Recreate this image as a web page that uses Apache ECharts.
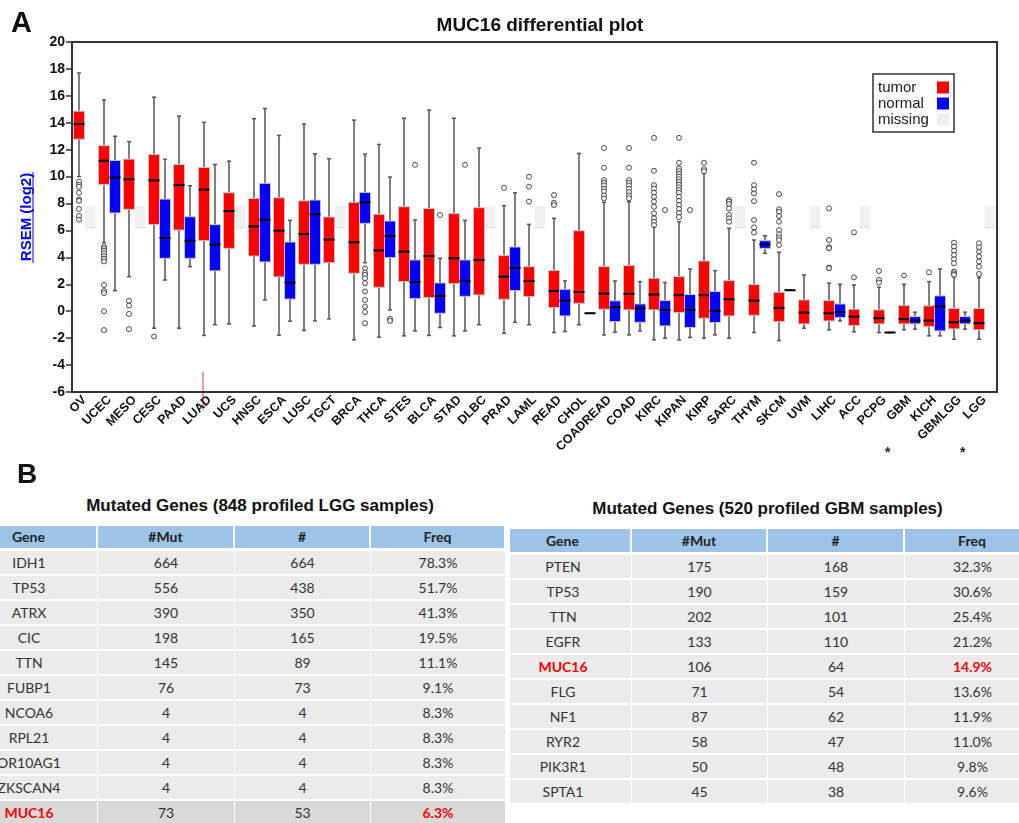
<!DOCTYPE html>
<html>
<head>
<meta charset="utf-8">
<script src="https://cdn.jsdelivr.net/npm/echarts@6/dist/echarts.min.js"></script>
<style>
body { margin: 0; width: 1019px; height: 823px; overflow: hidden; background: #fff; position: relative; }
#main { position: absolute; left: 0; top: 0; width: 1019px; height: 470px; }
.panel { position: absolute; font-family: "Liberation Sans", Arial, sans-serif; font-weight: bold; color: #111; }
.ttl { position: absolute; text-align: center; font-family: "Liberation Sans", Arial, sans-serif; font-weight: bold; font-size: 17px; color: #111; }
table { position: absolute; border-collapse: separate; border-spacing: 0; table-layout: fixed;
  font-family: Lato, "Open Sans", sans-serif; font-size: 14px; color: #333; }
th { background: #9dc3e6; padding: 0; font-weight: bold; color: #222; border-right: 2px solid #fff; border-bottom: 3px solid #fff; }
td { background: #ebebeb; padding: 0; height: 23px; line-height: 23px; text-align: center; border-bottom: 2px solid #fff; border-right: 1px solid #fff; }
tr.shade td { background: #d9d9d9; }
td.hi { color: #ff0000; font-weight: bold; }
</style>
</head>
<body>
<div id="main"></div>
<div class="panel" style="left:17px;top:458px;font-size:28px;">B</div>
<div class="ttl" style="left:0;width:520px;top:496px;">Mutated Genes (848 profiled LGG samples)</div>
<div class="ttl" style="left:510px;width:515px;top:499px;">Mutated Genes (520 profiled GBM samples)</div>
<table id="t1" style="left:-39px;top:526px;width:545px;"></table>
<table id="t2" style="left:510px;top:529px;width:531px;"></table>
<script>
var categories = ['OV', 'UCEC', 'MESO', 'CESC', 'PAAD', 'LUAD', 'UCS', 'HNSC', 'ESCA', 'LUSC', 'TGCT', 'BRCA',
    'THCA', 'STES', 'BLCA', 'STAD', 'DLBC', 'PRAD', 'LAML', 'READ', 'CHOL', 'COADREAD', 'COAD', 'KIRC', 'KIPAN',
    'KIRP', 'SARC', 'THYM', 'SKCM', 'UVM', 'LIHC', 'ACC', 'PCPG', 'GBM', 'KICH', 'GBMLGG', 'LGG'];
var starCats = ['GBM', 'LGG'];

// [min, Q1, median, Q3, max]
var tumorBox = [
    [10.0, 12.78, 13.9, 14.86, 17.7], [5.1, 9.42, 11.18, 12.3, 15.7], [2.57, 7.57, 9.8, 11.3, 12.6],
    [-1.26, 6.45, 9.72, 11.65, 15.9], [-1.26, 6.03, 9.37, 10.9, 14.5], [-1.8, 5.24, 9.03, 10.68, 14.02],
    [-0.94, 4.67, 7.44, 8.8, 11.15], [-1.1, 4.1, 6.3, 8.38, 14.3], [-1.78, 2.55, 5.98, 8.43, 13.06],
    [-1.43, 3.49, 5.74, 8.2, 13.9], [-0.57, 3.6, 5.32, 7.0, 11.33], [-2.13, 2.82, 5.12, 8.09, 14.2],
    [-1.93, 1.78, 4.52, 7.2, 12.39], [-1.83, 2.2, 4.43, 7.76, 14.34], [-1.8, 1.01, 4.1, 7.64, 14.94],
    [-1.83, 2.05, 3.93, 7.25, 14.34], [-1.0, 1.21, 3.81, 7.69, 12.12], [-1.63, 0.89, 2.57, 4.13, 7.84],
    [-1.0, 1.09, 2.25, 3.31, 6.45], [-1.58, 0.27, 1.51, 3.02, 6.9], [-1.0, 0.59, 1.43, 5.98, 11.72],
    [-1.76, 0.15, 1.31, 3.31, 8.09], [-1.76, 0.1, 1.29, 3.39, 8.14], [-2.13, 0.1, 1.24, 2.45, 6.28],
    [-2.13, -0.1, 1.19, 2.57, 6.65], [-2.0, -0.52, 1.19, 3.73, 10.24], [-2.0, -0.35, 0.89, 2.27, 6.16],
    [-1.58, -0.3, 0.79, 1.98, 5.29], [-2.18, -0.77, 0.25, 1.41, 4.38], [-1.26, -0.94, -0.1, 0.84, 2.7],
    [-1.38, -0.72, -0.15, 0.79, 2.08], [-1.53, -1.06, -0.4, 0.15, 1.95], [-1.58, -0.94, -0.52, 0.1, 1.78],
    [-1.38, -0.94, -0.59, 0.42, 2.0], [-1.83, -1.14, -0.69, 0.4, 2.2], [-2.08, -1.31, -0.82, 0.2, 2.57],
    [-2.08, -1.38, -0.89, 0.2, 2.5]
];
// null = no normal samples (drawn as "missing")
var normalBox = [
    null, [1.53, 7.3, 9.94, 11.2, 13.0], null,
    [2.32, 3.93, 5.44, 8.33, 11.28], [3.31, 3.93, 5.24, 7.02, 9.32], [-1.0, 3.0, 4.95, 6.43, 10.9],
    null, [0.84, 3.66, 6.8, 9.5, 15.06], [-0.74, 0.9, 2.13, 5.14, 6.75],
    [-0.72, 3.49, 7.2, 8.26, 11.7], null, [3.6, 6.53, 8.09, 8.83, 11.67],
    [0.1, 3.98, 5.59, 6.7, 9.97], [-1.46, 0.94, 2.18, 3.81, 6.78], [-1.21, -0.15, 1.14, 2.1, 3.93],
    [-1.46, 1.11, 2.25, 3.81, 6.75], null, [-0.82, 1.53, 3.21, 4.77, 8.8],
    null, [-1.51, -0.35, 0.79, 1.63, 2.25], [-0.15, -0.15, -0.15, -0.15, -0.15],
    [-1.56, -0.77, 0.3, 0.77, 2.25], [-1.46, -0.82, 0.22, 0.54, 2.2], [-2.0, -1.09, 0.1, 0.79, 2.13],
    [-1.95, -1.21, 0.1, 1.24, 3.14], [-1.76, -0.84, 0.02, 1.46, 3.02], null,
    [4.3, 4.67, 4.97, 5.24, 5.61], [1.56, 1.56, 1.56, 1.56, 1.56], null,
    [-0.72, -0.47, -0.07, 0.54, 2.0], null, [-1.58, -1.58, -1.58, -1.58, -1.58],
    [-1.33, -0.94, -0.69, -0.4, -0.07], [-1.83, -1.46, 0.35, 1.14, 3.14], [-1.33, -0.94, -0.69, -0.4, -0.07],
    null
];
var missingBand = [6.2, 7.8];

var tumorOutliers = [
    ['OV', [9.62, 9.4, 9.25, 8.8, 8.3, 8.2, 7.6, 7.07, 6.8]],
    ['UCEC', [4.8, 4.65, 4.5, 4.3, 4.1, 3.9, 3.7, 1.95, 1.5, 1.35, 0, -1.4]],
    ['MESO', [0.77, 0.42, -0.2, -1.33]],
    ['CESC', [-1.88]],
    ['PRAD', [9.17]],
    ['LAML', [9.99, 9.25, 8.14]],
    ['READ', [8.63, 8.06, 7.89]],
    ['COADREAD', [12.12, 10.66, 9.74, 9.55, 9.35, 9.1, 8.9, 8.6, 8.38]],
    ['COAD', [12.12, 10.66, 9.74, 9.55, 9.35, 9.1, 8.85, 8.6, 8.4]],
    ['KIRC', [12.88, 10.43, 9.37, 9.12, 8.8, 8.5, 8.14, 7.76, 7.27, 6.9, 6.65, 6.4]],
    ['KIPAN', [12.88, 11.03, 10.6, 10.4, 10.2, 10.0, 9.8, 9.6, 9.4, 9.2, 9.0, 8.8, 8.5, 8.2, 7.9, 7.6, 7.3, 7.0]],
    ['KIRP', [11.03, 10.55, 10.4]],
    ['SARC', [8.26, 8.14, 7.96, 7.64, 7.15, 6.9, 6.65]],
    ['THYM', [11.03, 9.37, 9.05, 8.75, 8.18, 6.78, 6.23, 5.84]],
    ['SKCM', [8.7, 7.57, 7.39, 7.07, 6.65, 6.03, 5.71, 5.49, 5.29, 4.92]],
    ['LIHC', [7.64, 5.29, 4.75, 4.68, 3.24, 3.19]],
    ['ACC', [5.86, 2.52]],
    ['PCPG', [2.99, 2.32, 2.13]],
    ['GBM', [2.65]],
    ['KICH', [2.89]],
    ['GBMLGG', [5.09, 4.8, 4.5, 4.18, 3.86, 3.56, 2.95, 2.82, 2.7]],
    ['LGG', [5.04, 4.75, 4.43, 4.06, 3.69, 3.31, 2.77]]
];
var normalOutliers = [
    ['BRCA', [3.19, 2.87, 2.7, 2.45, 2.08, 1.46, 0.84, 0.35, -0.07, -0.89]],
    ['THCA', [-0.57, -0.72]],
    ['STES', [10.88]],
    ['BLCA', [7.15]],
    ['STAD', [10.88]],
    ['KIRC', [7.52]],
    ['KIPAN', [7.52]]
];

var lggGenes = ['IDH1', 'TP53', 'ATRX', 'CIC', 'TTN', 'FUBP1', 'NCOA6', 'RPL21', 'OR10AG1', 'ZKSCAN4', 'MUC16'];
var lggMut = [664, 556, 390, 198, 145, 76, 4, 4, 4, 4, 73];
var lggNum = [664, 438, 350, 165, 89, 73, 4, 4, 4, 4, 53];
var lggFreq = ['78.3%', '51.7%', '41.3%', '19.5%', '11.1%', '9.1%', '8.3%', '8.3%', '8.3%', '8.3%', '6.3%'];

var gbmGenes = ['PTEN', 'TP53', 'TTN', 'EGFR', 'MUC16', 'FLG', 'NF1', 'RYR2', 'PIK3R1', 'SPTA1'];
var gbmMut = [175, 190, 202, 133, 106, 71, 87, 58, 50, 45];
var gbmNum = [168, 159, 101, 110, 64, 54, 62, 47, 48, 38];
var gbmFreq = ['32.3%', '30.6%', '25.4%', '21.2%', '14.9%', '13.6%', '11.9%', '11.0%', '9.8%', '9.6%'];

function buildTable(id, widths, headH, genes, mut, num, freq, shadeHi, genePad) {
    var html = '<colgroup>';
    for (var c = 0; c < widths.length; c++) html += '<col style="width:' + widths[c] + 'px">';
    html += '</colgroup>';
    var pad = genePad ? 'padding-right:' + genePad + 'px;' : '';
    var hs = 'height:' + headH + 'px;line-height:' + headH + 'px;';
    html += '<tr><th style="' + hs + pad + '">Gene</th><th style="' + hs + '">#Mut</th><th style="' + hs +
        '">#</th><th style="' + hs + '">Freq</th></tr>';
    for (var i = 0; i < genes.length; i++) {
        var hi = genes[i] == 'MUC16';
        var hc = hi ? ' class="hi"' : '';
        html += '<tr' + (hi && shadeHi ? ' class="shade"' : '') + '>' +
            '<td' + hc + ' style="' + pad + '">' + genes[i] + '</td><td>' + mut[i] + '</td><td>' + num[i] + '</td>' +
            '<td' + hc + '>' + freq[i] + '</td></tr>';
    }
    document.getElementById(id).innerHTML = html;
}
buildTable('t1', [137, 137, 136, 135], 22, lggGenes, lggMut, lggNum, lggFreq, true, 0);
buildTable('t2', [122, 136, 137, 136], 23, gbmGenes, gbmMut, gbmNum, gbmFreq, false, 15);

function toBoxData(list) {
    var out = [];
    for (var i = 0; i < list.length; i++) {
        if (list[i]) out.push([i].concat(list[i]));
    }
    return out;
}
function toOutlierData(list) {
    var out = [];
    for (var k = 0; k < list.length; k++) {
        var idx = categories.indexOf(list[k][0]);
        for (var j = 0; j < list[k][1].length; j++) out.push([idx, list[k][1][j]]);
    }
    return out;
}
var missingData = [];
for (var m = 0; m < normalBox.length; m++) {
    if (!normalBox[m]) missingData.push([m, missingBand[0], missingBand[1]]);
}

function boxRender(side, fill) {
    return function (params, api) {
        var i = api.value(0);
        var bw = api.size([1, 0])[0];
        var w = bw * 0.44;
        var cx = api.coord([i, 0])[0] + side * bw * 0.22;
        var yMin = api.coord([i, api.value(1)])[1];
        var yQ1 = api.coord([i, api.value(2)])[1];
        var yMed = api.coord([i, api.value(3)])[1];
        var yQ3 = api.coord([i, api.value(4)])[1];
        var yMax = api.coord([i, api.value(5)])[1];
        var ws = { stroke: '#555', lineWidth: 1.5 };
        return {
            type: 'group',
            children: [
                { type: 'line', shape: { x1: cx, y1: yMax, x2: cx, y2: yQ3 }, style: ws },
                { type: 'line', shape: { x1: cx, y1: yQ1, x2: cx, y2: yMin }, style: ws },
                { type: 'line', shape: { x1: cx - 2, y1: yMax, x2: cx + 2, y2: yMax }, style: ws },
                { type: 'line', shape: { x1: cx - 2, y1: yMin, x2: cx + 2, y2: yMin }, style: ws },
                { type: 'rect', shape: { x: cx - w / 2, y: yQ3, width: w, height: yQ1 - yQ3 },
                  style: { fill: fill, stroke: '#c4c4c4', lineWidth: 1 } },
                { type: 'line', shape: { x1: cx - w / 2, y1: yMed, x2: cx + w / 2, y2: yMed },
                  style: { stroke: '#000', lineWidth: 2 } }
            ]
        };
    };
}
function missingRender(params, api) {
    var i = api.value(0);
    var bw = api.size([1, 0])[0];
    var w = bw * 0.42;
    var cx = api.coord([i, 0])[0] + bw * 0.22;
    var yLo = api.coord([i, api.value(1)])[1];
    var yHi = api.coord([i, api.value(2)])[1];
    return {
        type: 'group',
        children: [
            { type: 'rect', shape: { x: cx - w / 2, y: yHi, width: w, height: yLo - yHi }, style: { fill: '#f0f0f0' } },
            { type: 'line', shape: { x1: cx - w / 2, y1: yLo, x2: cx + w / 2, y2: yLo }, style: { stroke: '#dcdcdc', lineWidth: 1 } }
        ]
    };
}

var font = '"Liberation Sans", Arial, sans-serif';
var myChart = echarts.init(document.getElementById('main'));
var option = {
    animation: false,
    textStyle: { fontFamily: font },
    title: {
        text: 'MUC16 differential plot',
        left: 535, top: 11, textAlign: 'center',
        textStyle: { fontSize: 19, fontWeight: 'bold', color: '#111', fontFamily: font }
    },
    legend: {
        data: ['tumor', 'normal', 'missing'],
        orient: 'vertical', left: 873, top: 74, align: 'right',
        icon: 'rect', itemWidth: 12, itemHeight: 12, itemGap: 1,
        padding: [6, 5, 5, 5],
        borderColor: '#333', borderWidth: 1.5, backgroundColor: '#fff',
        selectedMode: false,
        formatter: function (name) { return '{a|' + name + '}'; },
        textStyle: {
            fontSize: 15, color: '#222', lineHeight: 15, fontFamily: font,
            rich: { a: { width: 54, align: 'left', fontSize: 15, color: '#222', lineHeight: 15, fontFamily: font } }
        }
    },
    grid: { left: 72, right: 22, top: 42, height: 350, show: true, borderColor: '#333', borderWidth: 2 },
    xAxis: [{
        type: 'category',
        data: categories,
        axisLine: { onZero: false, lineStyle: { color: '#333', width: 2 } },
        axisTick: { alignWithLabel: true, length: 6, lineStyle: { color: '#333', width: 1.5 } },
        axisLabel: { interval: 0, rotate: 45, margin: 6, fontSize: 12.5, fontWeight: 'bold', color: '#111' }
    }, {
        type: 'category',
        data: categories,
        position: 'bottom',
        offset: 50,
        axisLine: { show: false, onZero: false },
        axisTick: { show: false },
        axisLabel: {
            interval: 0, margin: 4, align: 'right', padding: [0, 19, 0, 0],
            fontSize: 14, fontWeight: 'bold', color: '#222',
            formatter: function (v) { return starCats.indexOf(v) >= 0 ? '*' : ''; }
        }
    }],
    yAxis: {
        type: 'value',
        min: -6, max: 20, interval: 2,
        name: 'RSEM (log2)', nameLocation: 'middle', nameGap: 38,
        nameTextStyle: { color: '#0000ff', fontSize: 15, fontWeight: 'bold', fontFamily: font },
        axisLine: { show: true, lineStyle: { color: '#333', width: 2 } },
        axisTick: { show: true, length: 6, lineStyle: { color: '#333', width: 1.5 } },
        axisLabel: { margin: 7, fontSize: 14, fontWeight: 'bold', color: '#111' },
        splitLine: { show: false }
    },
    graphic: [
        { type: 'text', left: 11, top: 9, style: { text: 'A', font: 'bold 29px ' + font, fill: '#111' } },
        { type: 'line', shape: { x1: 33, y1: 172, x2: 33, y2: 263 }, style: { stroke: '#0000ff', lineWidth: 1 } },
        { type: 'line', shape: { x1: 203, y1: 372, x2: 203, y2: 410 }, style: { stroke: '#ff3030', lineWidth: 1 } },
        { type: 'line', shape: { x1: 72, y1: 392, x2: 92, y2: 392 }, style: { stroke: '#ff3030', lineWidth: 1.5 } }
    ],
    series: [{
        name: 'missing',
        type: 'custom',
        itemStyle: { color: '#eeeeee' },
        renderItem: missingRender,
        encode: { x: 0, y: [1, 2] },
        data: missingData
    }, {
        name: 'tumor',
        type: 'custom',
        itemStyle: { color: '#ff0000' },
        renderItem: boxRender(-1, '#ff0000'),
        encode: { x: 0, y: [1, 2, 3, 4, 5] },
        data: toBoxData(tumorBox)
    }, {
        name: 'normal',
        type: 'custom',
        itemStyle: { color: '#0000ff' },
        renderItem: boxRender(1, '#0000ff'),
        encode: { x: 0, y: [1, 2, 3, 4, 5] },
        data: toBoxData(normalBox)
    }, {
        name: 'tumor outliers',
        type: 'scatter',
        symbol: 'circle', symbolSize: 5, symbolOffset: [-5.5, 0],
        itemStyle: { color: '#fff', borderColor: '#222', borderWidth: 1 },
        data: toOutlierData(tumorOutliers)
    }, {
        name: 'normal outliers',
        type: 'scatter',
        symbol: 'circle', symbolSize: 5, symbolOffset: [5.5, 0],
        itemStyle: { color: '#fff', borderColor: '#222', borderWidth: 1 },
        data: toOutlierData(normalOutliers)
    }]
};
myChart.setOption(option);
</script>
</body>
</html>
